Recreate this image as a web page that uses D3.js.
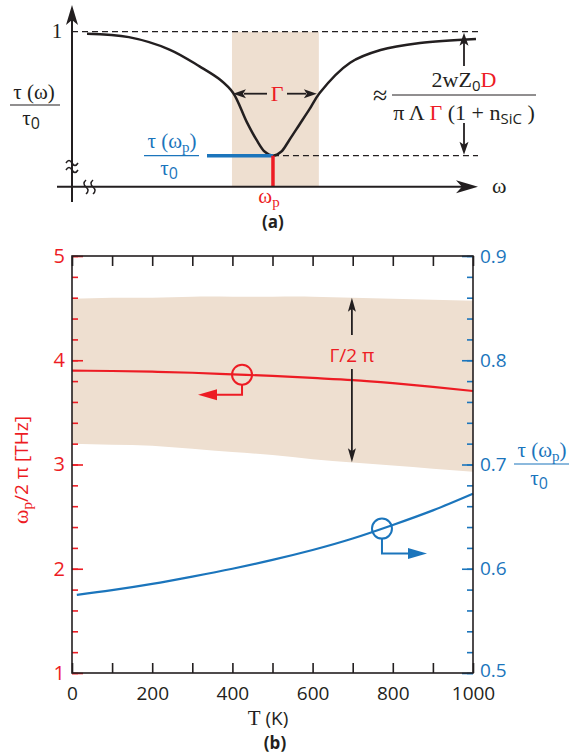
<!DOCTYPE html>
<html>
<head>
<meta charset="utf-8">
<script src="https://cdn.jsdelivr.net/npm/d3@7"></script>
<style>
body { margin: 0; background: #fff; }
text { font-family: "Open Sans", "Noto Sans", sans-serif; }
.math { font-family: "Liberation Serif", "DejaVu Serif", serif; }
</style>
</head>
<body>
<div id="chart"></div>
<script>
// ---- panel (a): schematic transmission dip (arbitrary omega units) ----
var omegaA = [0.37, 1.4, 2.4, 3.15, 3.65, 3.97, 4.3, 4.55, 4.75, 4.95, 5.15, 5.35, 5.6, 5.85, 6.1, 6.85, 7.6, 8.57, 9.95];
var tauA   = [0.987, 0.965, 0.885, 0.775, 0.69, 0.605, 0.42, 0.30, 0.225, 0.2, 0.225, 0.30, 0.40, 0.50, 0.605, 0.80, 0.882, 0.927, 0.953];
var omegaPA = 4.95;
var tauMinA = 0.2;
var gammaA = [3.94, 6.08];

// ---- panel (b): values vs temperature ----
var temps    = [0, 100, 200, 300, 400, 500, 600, 700, 800, 900, 1000];
var omegaP   = [3.90, 3.897, 3.89, 3.88, 3.865, 3.85, 3.83, 3.81, 3.78, 3.745, 3.705];
var gammaTop = [4.59, 4.60, 4.60, 4.61, 4.61, 4.61, 4.61, 4.60, 4.59, 4.58, 4.57];
var gammaBot = [3.20, 3.19, 3.18, 3.15, 3.12, 3.09, 3.05, 3.02, 2.99, 2.96, 2.93];
var tauTemps = [12, 100, 200, 300, 400, 500, 600, 700, 800, 900, 1000];
var tauRatio = [0.575, 0.5795, 0.5855, 0.5925, 0.600, 0.6085, 0.618, 0.629, 0.642, 0.656, 0.672];

var leftTicks  = [1, 2, 3, 4, 5];
var rightTicks = [0.5, 0.6, 0.7, 0.8, 0.9];
var xTicks     = [0, 200, 400, 600, 800, 1000];

var RED = "#ed1c24", BLUE = "#1b75bc", SHADE = "#eedfd0", INK = "#231f20";

var svg = d3.select("#chart").append("svg")
	.attr("width", 571)
	.attr("height", 756);

// arrow head pointing along +x, then rotated
function head(g, x, y, ang, len, wid, notch, col) {
	g.append("path")
		.attr("d", "M0,0L" + (-len) + "," + (-wid / 2) + "L" + (-len + notch) + ",0L" + (-len) + "," + (wid / 2) + "Z")
		.attr("transform", "translate(" + x + "," + y + ") rotate(" + ang + ")")
		.attr("fill", col);
}

function interp(xs, ys, t) {
	var i = d3.bisectRight(xs, t);
	i = Math.max(1, Math.min(xs.length - 1, i));
	var f = (t - xs[i - 1]) / (xs[i] - xs[i - 1]);
	return ys[i - 1] + f * (ys[i] - ys[i - 1]);
}

// ================= panel (a) =================
var ga = svg.append("g");
var xa = d3.scaleLinear().domain([0, 10]).range([72, 478]);
var ya = d3.scaleLinear().domain([0, 1]).range([186.7, 31.7]);

ga.append("rect")
	.attr("x", xa(gammaA[0])).attr("y", ya(1))
	.attr("width", xa(gammaA[1]) - xa(gammaA[0]))
	.attr("height", ya(0) - ya(1))
	.attr("fill", SHADE);

ga.append("line")
	.attr("x1", xa(0)).attr("x2", xa(10)).attr("y1", ya(1)).attr("y2", ya(1))
	.attr("stroke", INK).attr("stroke-width", 1.3).attr("stroke-dasharray", "6,4");
ga.append("line")
	.attr("x1", xa(omegaPA)).attr("x2", xa(10)).attr("y1", ya(tauMinA)).attr("y2", ya(tauMinA))
	.attr("stroke", INK).attr("stroke-width", 1.3).attr("stroke-dasharray", "6,4");

ga.append("path")
	.datum(d3.zip(omegaA, tauA))
	.attr("d", d3.line().x(function (d) { return xa(d[0]); }).y(function (d) { return ya(d[1]); })
		.curve(d3.curveCatmullRom.alpha(0.5)))
	.attr("fill", "none").attr("stroke", INK).attr("stroke-width", 2.5);

ga.append("line")
	.attr("x1", 207).attr("x2", xa(omegaPA)).attr("y1", ya(tauMinA)).attr("y2", ya(tauMinA))
	.attr("stroke", BLUE).attr("stroke-width", 3.5);
ga.append("line")
	.attr("x1", xa(omegaPA)).attr("x2", xa(omegaPA)).attr("y1", ya(tauMinA)).attr("y2", ya(0))
	.attr("stroke", RED).attr("stroke-width", 3.5);

// axes
ga.append("line").attr("x1", 72).attr("x2", 72).attr("y1", 202).attr("y2", 12)
	.attr("stroke", INK).attr("stroke-width", 2);
head(ga, 72, 5, -90, 20, 12, 5, INK);
ga.append("line").attr("x1", 57).attr("x2", 470).attr("y1", ya(0)).attr("y2", ya(0))
	.attr("stroke", INK).attr("stroke-width", 2);
head(ga, 478, ya(0), 0, 22, 13, 6, INK);

// axis breaks
[163, 170].forEach(function (y) {
	ga.append("path")
		.attr("d", "M66," + y + "q3,-5 6,0t6,0")
		.attr("fill", "none").attr("stroke", INK).attr("stroke-width", 1.5);
});
[86, 93].forEach(function (x) {
	ga.append("path")
		.attr("d", "M" + x + ",180q-4,3.5 0,7t0,7")
		.attr("fill", "none").attr("stroke", INK).attr("stroke-width", 1.5);
});

// Gamma width arrows
var yG = ya((1 + tauMinA) / 2);
ga.append("line").attr("x1", 267).attr("x2", 244).attr("y1", yG).attr("y2", yG)
	.attr("stroke", INK).attr("stroke-width", 1.8);
head(ga, xa(gammaA[0]) + 1, yG, 180, 13, 9, 3, INK);
ga.append("line").attr("x1", 287).attr("x2", 306).attr("y1", yG).attr("y2", yG)
	.attr("stroke", INK).attr("stroke-width", 1.8);
head(ga, xa(gammaA[1]) - 2, yG, 0, 13, 9, 3, INK);
ga.append("text").attr("class", "math").attr("x", 277).attr("y", yG + 7)
	.attr("text-anchor", "middle").attr("font-size", 22).attr("fill", RED).text("Γ");

// depth arrows on the right
ga.append("line").attr("x1", 464).attr("x2", 464).attr("y1", 42).attr("y2", 66)
	.attr("stroke", INK).attr("stroke-width", 1.8);
head(ga, 464, ya(1) + 1, -90, 13, 9, 3, INK);
ga.append("line").attr("x1", 464).attr("x2", 464).attr("y1", 123).attr("y2", 146)
	.attr("stroke", INK).attr("stroke-width", 1.8);
head(ga, 464, ya(tauMinA) - 1, 90, 13, 9, 3, INK);

// formula
ga.append("text").attr("class", "math").attr("x", 373).attr("y", 104)
	.attr("font-size", 26).attr("fill", INK).text("≈");
ga.append("line").attr("x1", 392).attr("x2", 536).attr("y1", 95).attr("y2", 95)
	.attr("stroke", INK).attr("stroke-width", 1);
var num = ga.append("text").attr("class", "math").attr("x", 464).attr("y", 87)
	.attr("text-anchor", "middle").attr("font-size", 22).attr("fill", INK);
num.append("tspan").text("2wZ");
num.append("tspan").attr("dy", 4).attr("font-size", 15).attr("font-family", "Open Sans").text("0");
num.append("tspan").attr("dy", -4).attr("fill", RED).text("D");
var den = ga.append("text").attr("class", "math").attr("x", 464).attr("y", 120)
	.attr("text-anchor", "middle").attr("font-size", 22).attr("fill", INK);
den.append("tspan").text("π Λ ");
den.append("tspan").attr("fill", RED).text("Γ");
den.append("tspan").text(" (1 + n");
den.append("tspan").attr("dy", 4).attr("font-size", 15).attr("font-family", "Open Sans").text("SiC");
den.append("tspan").attr("dy", -4).text(" )");

// left labels
ga.append("text").attr("class", "math").attr("x", 57).attr("y", 38)
	.attr("text-anchor", "middle").attr("font-size", 21).attr("fill", INK).text("1");

function tauFrac(g, cx, yNum, yLine, yDen, x1, x2, col, sub) {
	var t = g.append("text").attr("class", "math").attr("x", cx).attr("y", yNum)
		.attr("text-anchor", "middle").attr("font-size", 21).attr("fill", col);
	t.append("tspan").text("τ (ω");
	if (sub) {
		t.append("tspan").attr("dy", 4).attr("font-size", 15).text("p");
		t.append("tspan").attr("dy", -4).text(")");
	} else {
		t.append("tspan").text(")");
	}
	g.append("line").attr("x1", x1).attr("x2", x2).attr("y1", yLine).attr("y2", yLine)
		.attr("stroke", col).attr("stroke-width", 1.2);
	var d = g.append("text").attr("class", "math").attr("x", cx - 3).attr("y", yDen)
		.attr("text-anchor", "middle").attr("font-size", 21).attr("fill", col);
	d.append("tspan").text("τ");
	d.append("tspan").attr("dy", 4).attr("font-size", 16).attr("font-family", "Open Sans").text("0");
}
tauFrac(ga, 34, 99, 105, 125, 10, 60, INK, false);
tauFrac(ga, 172, 148, 155.7, 175, 144, 199, BLUE, true);

var wp = ga.append("text").attr("class", "math").attr("x", xa(omegaPA) - 4).attr("y", 203)
	.attr("text-anchor", "middle").attr("font-size", 21).attr("fill", RED);
wp.append("tspan").text("ω");
wp.append("tspan").attr("dy", 4).attr("font-size", 15).text("p");
ga.append("text").attr("x", 492).attr("y", 193).attr("class", "math")
	.attr("font-size", 22).attr("fill", INK).text("ω");
ga.append("text").attr("x", xa(omegaPA)).attr("y", 228).attr("text-anchor", "middle")
	.attr("font-size", 17).attr("font-weight", "bold").attr("fill", INK).text("(a)");

// ================= panel (b) =================
var gb = svg.append("g");
var x = d3.scaleLinear().domain([0, 1000]).range([72, 473]);
var yL = d3.scaleLinear().domain([1, 5]).range([673, 256]);
var yR = d3.scaleLinear().domain([0.5, 0.9]).range([673, 256]);

gb.append("path")
	.datum(d3.range(temps.length))
	.attr("d", d3.area()
		.x(function (i) { return x(temps[i]); })
		.y0(function (i) { return yL(gammaBot[i]); })
		.y1(function (i) { return yL(gammaTop[i]); })
		.curve(d3.curveNatural))
	.attr("fill", SHADE);

gb.append("path")
	.datum(d3.zip(temps, omegaP))
	.attr("d", d3.line().x(function (d) { return x(d[0]); }).y(function (d) { return yL(d[1]); })
		.curve(d3.curveNatural))
	.attr("fill", "none").attr("stroke", RED).attr("stroke-width", 2.2);

gb.append("path")
	.datum(d3.zip(tauTemps, tauRatio))
	.attr("d", d3.line().x(function (d) { return x(d[0]); }).y(function (d) { return yR(d[1]); })
		.curve(d3.curveNatural))
	.attr("fill", "none").attr("stroke", BLUE).attr("stroke-width", 2.2);

// axes
function styleAxis(g, col) {
	g.select(".domain").remove();
	g.selectAll(".tick line").attr("stroke", col).attr("stroke-width", 1.6);
	g.selectAll(".tick text").attr("fill", col)
		.attr("font-family", "'Open Sans', sans-serif");
}

gb.append("g").attr("transform", "translate(72,0)")
	.call(d3.axisLeft(yL).tickValues(d3.range(1, 5.01, 0.2)).tickSize(-6).tickFormat(""))
	.call(styleAxis, RED);
gb.append("g").attr("transform", "translate(72,0)")
	.call(d3.axisLeft(yL).tickValues(leftTicks).tickSize(-11).tickPadding(6).tickFormat(d3.format("d")))
	.call(styleAxis, RED)
	.selectAll("text").attr("font-size", 20).attr("dx", -1);

gb.append("g").attr("transform", "translate(473,0)")
	.call(d3.axisRight(yR).tickValues(d3.range(0.5, 0.901, 0.02)).tickSize(-6).tickFormat(""))
	.call(styleAxis, BLUE);
gb.append("g").attr("transform", "translate(473,0)")
	.call(d3.axisRight(yR).tickValues(rightTicks).tickSize(-11).tickPadding(7).tickFormat(d3.format(".1f")))
	.call(styleAxis, BLUE)
	.selectAll("text").attr("font-size", 19).attr("dy", function (d) { return d === 0.5 ? "0.2em" : "0.32em"; });

gb.append("g").attr("transform", "translate(0,673)")
	.call(d3.axisBottom(x).tickValues(d3.range(0, 1001, 100)).tickSize(-10).tickFormat(""))
	.call(styleAxis, INK);
gb.append("g").attr("transform", "translate(0,673)")
	.call(d3.axisBottom(x).tickValues(xTicks).tickSize(0).tickPadding(14).tickFormat(d3.format("d")))
	.call(styleAxis, INK)
	.selectAll("text").attr("font-size", 19);
gb.append("g").attr("transform", "translate(0,256)")
	.call(d3.axisTop(x).tickValues(d3.range(0, 1001, 100)).tickSize(-10).tickFormat(""))
	.call(styleAxis, INK);

gb.append("rect").attr("x", 72).attr("y", 256).attr("width", 401).attr("height", 417)
	.attr("fill", "none").attr("stroke", INK).attr("stroke-width", 1.6);

// Gamma/2pi arrow
var tG = 698, xG = x(tG);
var yTop = yL(interp(temps, gammaTop, tG)), yBot = yL(interp(temps, gammaBot, tG));
gb.append("line").attr("x1", xG).attr("x2", xG).attr("y1", yTop + 10).attr("y2", 335)
	.attr("stroke", INK).attr("stroke-width", 1.8);
head(gb, xG, yTop, -90, 14, 8, 3, INK);
gb.append("line").attr("x1", xG).attr("x2", xG).attr("y1", 369).attr("y2", yBot - 10)
	.attr("stroke", INK).attr("stroke-width", 1.8);
head(gb, xG, yBot, 90, 14, 8, 3, INK);
gb.append("text").attr("x", xG).attr("y", 362).attr("text-anchor", "middle")
	.attr("font-size", 19).attr("fill", RED).text("Γ/2 π");

// series markers
var tR = 424, cxR = x(tR), cyR = yL(interp(temps, omegaP, tR));
gb.append("circle").attr("cx", cxR).attr("cy", cyR).attr("r", 10)
	.attr("fill", "none").attr("stroke", RED).attr("stroke-width", 2);
gb.append("path").attr("d", "M" + cxR + "," + (cyR + 10) + "V" + (cyR + 20) + "H" + (cxR - 28))
	.attr("fill", "none").attr("stroke", RED).attr("stroke-width", 2);
head(gb, cxR - 44, cyR + 20, 180, 19, 11, 0, RED);

var tB = 773, cxB = x(tB), cyB = yR(interp(tauTemps, tauRatio, tB));
gb.append("circle").attr("cx", cxB).attr("cy", cyB).attr("r", 10)
	.attr("fill", "none").attr("stroke", BLUE).attr("stroke-width", 2);
gb.append("path").attr("d", "M" + cxB + "," + (cyB + 10) + "V" + (cyB + 25) + "H" + (cxB + 28))
	.attr("fill", "none").attr("stroke", BLUE).attr("stroke-width", 2);
head(gb, cxB + 45, cyB + 25, 0, 19, 11, 0, BLUE);

// axis titles
var lt = gb.append("text").attr("transform", "translate(28,470) rotate(-90)")
	.attr("text-anchor", "middle").attr("font-size", 19).attr("fill", RED);
lt.append("tspan").attr("font-family", "'Liberation Serif', serif").attr("font-size", 22).text("ω");
lt.append("tspan").attr("dy", 4).attr("font-family", "'Liberation Serif', serif").attr("font-size", 15).text("p");
lt.append("tspan").attr("dy", -4).text("/2 π [THz]");

tauFrac(gb, 542, 457, 464, 485, 514, 569, BLUE, true);

var tt = gb.append("text").attr("x", 268).attr("y", 725).attr("text-anchor", "middle")
	.attr("font-size", 19).attr("fill", INK);
tt.append("tspan").attr("font-family", "'Liberation Serif', serif").attr("font-size", 21).text("T");
tt.append("tspan").text(" (K)");
gb.append("text").attr("x", 275).attr("y", 749).attr("text-anchor", "middle")
	.attr("font-size", 17).attr("font-weight", "bold").attr("fill", INK).text("(b)");
</script>
</body>
</html>
